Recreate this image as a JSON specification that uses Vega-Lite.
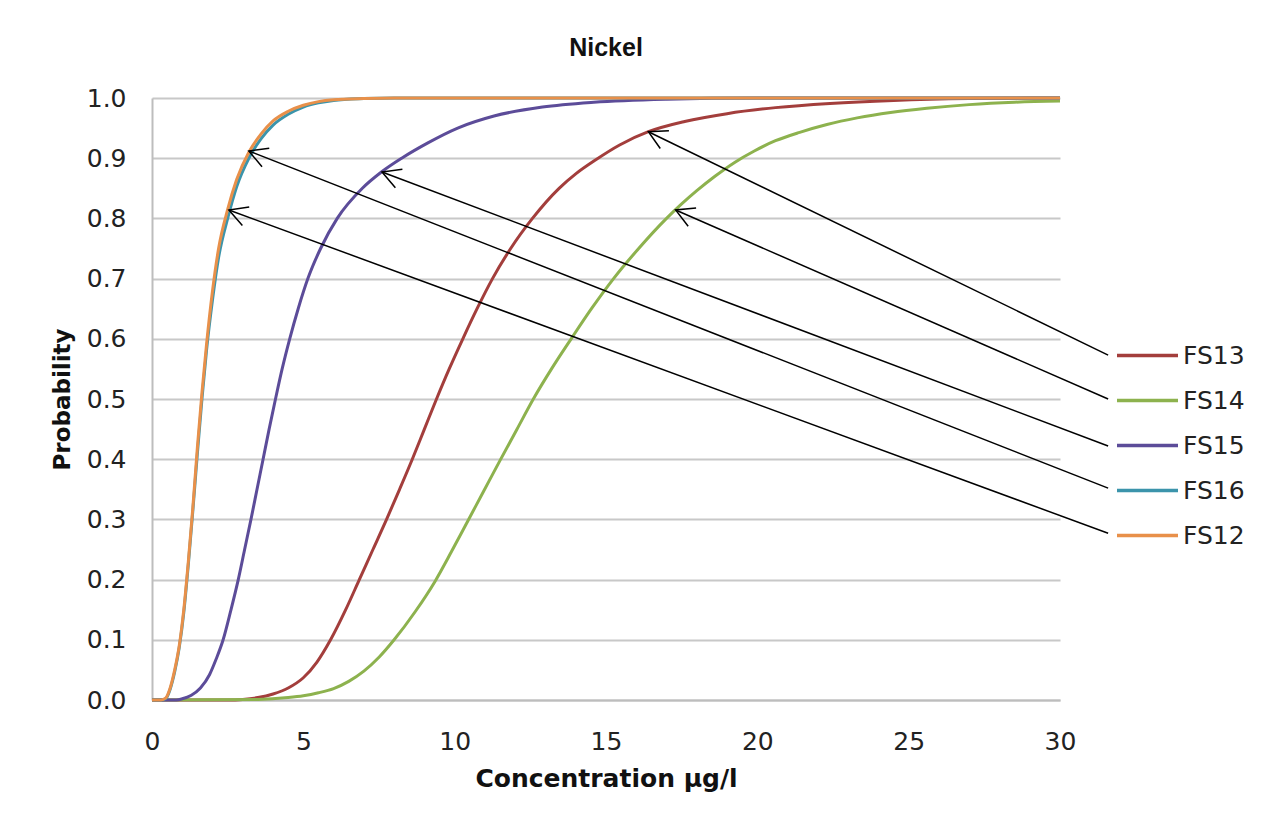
{
  "$schema": "https://vega.github.io/schema/vega-lite/v6.json",
  "autosize": {"type": "none"},
  "width": 908,
  "height": 602,
  "padding": {"left": 152, "top": 98, "right": 214, "bottom": 121},
  "background": "white",
  "config": {
    "font": "DejaVu Sans",
    "view": {"stroke": null},
    "axis": {"labelFont": "DejaVu Sans", "titleFont": "DejaVu Sans"}
  },
  "title": {
    "text": "Nickel",
    "font": "Liberation Sans",
    "fontSize": 25,
    "fontWeight": "bold",
    "color": "#111",
    "anchor": "middle",
    "offset": 25
  },
  "datasets": {
    "curves": [
      {"s": "FS13", "x": 0, "p": 0}, {"s": "FS13", "x": 2.5, "p": 0}, {"s": "FS13", "x": 3.0, "p": 0.001}, {"s": "FS13", "x": 3.5, "p": 0.004}, {"s": "FS13", "x": 4.0, "p": 0.01}, {"s": "FS13", "x": 4.5, "p": 0.02}, {"s": "FS13", "x": 5.0, "p": 0.037}, {"s": "FS13", "x": 5.45, "p": 0.063}, {"s": "FS13", "x": 5.9, "p": 0.1}, {"s": "FS13", "x": 6.4, "p": 0.15}, {"s": "FS13", "x": 6.85, "p": 0.2}, {"s": "FS13", "x": 7.3, "p": 0.25}, {"s": "FS13", "x": 7.75, "p": 0.3}, {"s": "FS13", "x": 8.18, "p": 0.35}, {"s": "FS13", "x": 8.6, "p": 0.4}, {"s": "FS13", "x": 9.0, "p": 0.45}, {"s": "FS13", "x": 9.4, "p": 0.5}, {"s": "FS13", "x": 9.82, "p": 0.55}, {"s": "FS13", "x": 10.27, "p": 0.6}, {"s": "FS13", "x": 10.74, "p": 0.65}, {"s": "FS13", "x": 11.25, "p": 0.7}, {"s": "FS13", "x": 11.85, "p": 0.75}, {"s": "FS13", "x": 12.57, "p": 0.8}, {"s": "FS13", "x": 13.45, "p": 0.85}, {"s": "FS13", "x": 14.0, "p": 0.874}, {"s": "FS13", "x": 14.65, "p": 0.897}, {"s": "FS13", "x": 15.45, "p": 0.922}, {"s": "FS13", "x": 16.4, "p": 0.944}, {"s": "FS13", "x": 17.6, "p": 0.961}, {"s": "FS13", "x": 19.0, "p": 0.974}, {"s": "FS13", "x": 20.6, "p": 0.984}, {"s": "FS13", "x": 22.4, "p": 0.991}, {"s": "FS13", "x": 24.5, "p": 0.996}, {"s": "FS13", "x": 27, "p": 0.999}, {"s": "FS13", "x": 30, "p": 1},

      {"s": "FS14", "x": 0, "p": 0}, {"s": "FS14", "x": 3.5, "p": 0.001}, {"s": "FS14", "x": 4.5, "p": 0.004}, {"s": "FS14", "x": 5.0, "p": 0.007}, {"s": "FS14", "x": 5.5, "p": 0.012}, {"s": "FS14", "x": 6.0, "p": 0.019}, {"s": "FS14", "x": 6.5, "p": 0.031}, {"s": "FS14", "x": 7.0, "p": 0.048}, {"s": "FS14", "x": 7.5, "p": 0.071}, {"s": "FS14", "x": 8.0, "p": 0.1}, {"s": "FS14", "x": 8.7, "p": 0.147}, {"s": "FS14", "x": 9.35, "p": 0.197}, {"s": "FS14", "x": 9.9, "p": 0.247}, {"s": "FS14", "x": 10.43, "p": 0.297}, {"s": "FS14", "x": 10.97, "p": 0.348}, {"s": "FS14", "x": 11.5, "p": 0.398}, {"s": "FS14", "x": 12.05, "p": 0.449}, {"s": "FS14", "x": 12.6, "p": 0.5}, {"s": "FS14", "x": 13.2, "p": 0.55}, {"s": "FS14", "x": 13.85, "p": 0.6}, {"s": "FS14", "x": 14.52, "p": 0.65}, {"s": "FS14", "x": 15.25, "p": 0.7}, {"s": "FS14", "x": 16.08, "p": 0.75}, {"s": "FS14", "x": 17.0, "p": 0.8}, {"s": "FS14", "x": 17.5, "p": 0.824}, {"s": "FS14", "x": 18.0, "p": 0.846}, {"s": "FS14", "x": 18.6, "p": 0.87}, {"s": "FS14", "x": 19.25, "p": 0.893}, {"s": "FS14", "x": 19.9, "p": 0.912}, {"s": "FS14", "x": 20.6, "p": 0.929}, {"s": "FS14", "x": 21.4, "p": 0.943}, {"s": "FS14", "x": 22.3, "p": 0.956}, {"s": "FS14", "x": 23.3, "p": 0.967}, {"s": "FS14", "x": 24.4, "p": 0.976}, {"s": "FS14", "x": 25.6, "p": 0.983}, {"s": "FS14", "x": 27.0, "p": 0.989}, {"s": "FS14", "x": 28.5, "p": 0.993}, {"s": "FS14", "x": 30, "p": 0.995},

      {"s": "FS15", "x": 0, "p": 0}, {"s": "FS15", "x": 0.8, "p": 0}, {"s": "FS15", "x": 1.0, "p": 0.002}, {"s": "FS15", "x": 1.3, "p": 0.008}, {"s": "FS15", "x": 1.6, "p": 0.02}, {"s": "FS15", "x": 1.9, "p": 0.042}, {"s": "FS15", "x": 2.12, "p": 0.068}, {"s": "FS15", "x": 2.35, "p": 0.1}, {"s": "FS15", "x": 2.6, "p": 0.148}, {"s": "FS15", "x": 2.85, "p": 0.2}, {"s": "FS15", "x": 3.06, "p": 0.25}, {"s": "FS15", "x": 3.27, "p": 0.3}, {"s": "FS15", "x": 3.47, "p": 0.35}, {"s": "FS15", "x": 3.67, "p": 0.4}, {"s": "FS15", "x": 3.87, "p": 0.45}, {"s": "FS15", "x": 4.08, "p": 0.5}, {"s": "FS15", "x": 4.3, "p": 0.55}, {"s": "FS15", "x": 4.55, "p": 0.6}, {"s": "FS15", "x": 4.83, "p": 0.65}, {"s": "FS15", "x": 5.15, "p": 0.7}, {"s": "FS15", "x": 5.57, "p": 0.75}, {"s": "FS15", "x": 6.12, "p": 0.8}, {"s": "FS15", "x": 6.95, "p": 0.85}, {"s": "FS15", "x": 7.58, "p": 0.877}, {"s": "FS15", "x": 8.25, "p": 0.9}, {"s": "FS15", "x": 9.1, "p": 0.925}, {"s": "FS15", "x": 10.1, "p": 0.95}, {"s": "FS15", "x": 11.3, "p": 0.97}, {"s": "FS15", "x": 12.9, "p": 0.985}, {"s": "FS15", "x": 14.6, "p": 0.993}, {"s": "FS15", "x": 17, "p": 0.998}, {"s": "FS15", "x": 20, "p": 1}, {"s": "FS15", "x": 30, "p": 1},

      {"s": "FS16", "x": 0, "p": 0}, {"s": "FS16", "x": 0.3, "p": 0}, {"s": "FS16", "x": 0.45, "p": 0.002}, {"s": "FS16", "x": 0.6, "p": 0.018}, {"s": "FS16", "x": 0.75, "p": 0.047}, {"s": "FS16", "x": 0.9, "p": 0.087}, {"s": "FS16", "x": 1.05, "p": 0.145}, {"s": "FS16", "x": 1.2, "p": 0.225}, {"s": "FS16", "x": 1.35, "p": 0.315}, {"s": "FS16", "x": 1.5, "p": 0.41}, {"s": "FS16", "x": 1.65, "p": 0.5}, {"s": "FS16", "x": 1.8, "p": 0.58}, {"s": "FS16", "x": 2.0, "p": 0.665}, {"s": "FS16", "x": 2.2, "p": 0.735}, {"s": "FS16", "x": 2.5, "p": 0.8}, {"s": "FS16", "x": 2.8, "p": 0.853}, {"s": "FS16", "x": 3.2, "p": 0.9}, {"s": "FS16", "x": 3.6, "p": 0.932}, {"s": "FS16", "x": 4.0, "p": 0.955}, {"s": "FS16", "x": 4.5, "p": 0.973}, {"s": "FS16", "x": 5.0, "p": 0.985}, {"s": "FS16", "x": 5.5, "p": 0.992}, {"s": "FS16", "x": 6.0, "p": 0.996}, {"s": "FS16", "x": 7.0, "p": 0.999}, {"s": "FS16", "x": 8, "p": 1}, {"s": "FS16", "x": 30, "p": 1},

      {"s": "FS12", "x": 0, "p": 0}, {"s": "FS12", "x": 0.3, "p": 0}, {"s": "FS12", "x": 0.45, "p": 0.003}, {"s": "FS12", "x": 0.6, "p": 0.02}, {"s": "FS12", "x": 0.75, "p": 0.05}, {"s": "FS12", "x": 0.9, "p": 0.09}, {"s": "FS12", "x": 1.05, "p": 0.15}, {"s": "FS12", "x": 1.2, "p": 0.23}, {"s": "FS12", "x": 1.35, "p": 0.32}, {"s": "FS12", "x": 1.5, "p": 0.42}, {"s": "FS12", "x": 1.65, "p": 0.51}, {"s": "FS12", "x": 1.8, "p": 0.59}, {"s": "FS12", "x": 2.0, "p": 0.68}, {"s": "FS12", "x": 2.2, "p": 0.75}, {"s": "FS12", "x": 2.5, "p": 0.815}, {"s": "FS12", "x": 2.8, "p": 0.865}, {"s": "FS12", "x": 3.2, "p": 0.91}, {"s": "FS12", "x": 3.6, "p": 0.94}, {"s": "FS12", "x": 4.0, "p": 0.962}, {"s": "FS12", "x": 4.5, "p": 0.978}, {"s": "FS12", "x": 5.0, "p": 0.988}, {"s": "FS12", "x": 5.5, "p": 0.994}, {"s": "FS12", "x": 6.0, "p": 0.997}, {"s": "FS12", "x": 7.0, "p": 0.999}, {"s": "FS12", "x": 8, "p": 1}, {"s": "FS12", "x": 30, "p": 1}
    ],
    "arrows": [
      {"s": "FS13", "x": 16.4, "y": 0.944, "x2": 31.59, "y2": 0.573, "angle": 25.9},
      {"s": "FS14", "x": 17.3, "y": 0.814, "x2": 31.59, "y2": 0.5, "angle": 23.6},
      {"s": "FS15", "x": 7.6, "y": 0.877, "x2": 31.59, "y2": 0.422, "angle": 20.7},
      {"s": "FS16", "x": 3.2, "y": 0.912, "x2": 31.59, "y2": 0.352, "angle": 21.4},
      {"s": "FS12", "x": 2.54, "y": 0.814, "x2": 31.59, "y2": 0.277, "angle": 20.2}
    ]
  },
  "layer": [
    {
      "data": {"name": "curves"},
      "mark": {"type": "line", "strokeWidth": 3, "interpolate": "monotone"},
      "encoding": {
        "x": {
          "field": "x", "type": "quantitative",
          "scale": {"domain": [0, 30], "nice": false},
          "axis": {
            "values": [0, 5, 10, 15, 20, 25, 30],
            "labelFlush": false,
            "title": "Concentration µg/l",
            "titleFontSize": 25, "titleFontWeight": "bold", "titleColor": "#111",
            "titlePadding": 12,
            "labelFontSize": 25, "labelColor": "#222", "labelPadding": 29,
            "ticks": false, "grid": false,
            "domainColor": "#bdbdbd", "domainWidth": 2
          }
        },
        "y": {
          "field": "p", "type": "quantitative",
          "scale": {"domain": [0, 1], "nice": false},
          "axis": {
            "values": [0, 0.1, 0.2, 0.3, 0.4, 0.5, 0.6, 0.7, 0.8, 0.9, 1.0],
            "format": ".1f",
            "labelFlush": false,
            "title": "Probability",
            "titleFontSize": 23, "titleFontWeight": "bold", "titleColor": "#111",
            "titlePadding": 12,
            "labelFontSize": 25, "labelColor": "#222", "labelPadding": 26,
            "ticks": false,
            "grid": true, "gridColor": "#c8c8c8", "gridWidth": 2,
            "domainColor": "#bdbdbd", "domainWidth": 2
          }
        },
        "color": {
          "field": "s", "type": "nominal",
          "scale": {
            "domain": ["FS13", "FS14", "FS15", "FS16", "FS12"],
            "range": ["#a33e3c", "#8db24e", "#5c4c99", "#3b94ab", "#e8904a"]
          },
          "legend": {
            "title": null,
            "orient": "none",
            "legendX": 963,
            "legendY": 236,
            "padding": 0,
            "symbolType": "stroke",
            "symbolSize": 3721,
            "symbolStrokeWidth": 3.5,
            "clipHeight": 43,
            "rowPadding": 2,
            "labelOffset": 3,
            "labelFontSize": 25,
            "labelColor": "#222",
            "labelFont": "DejaVu Sans"
          }
        }
      }
    },
    {
      "data": {"name": "arrows"},
      "mark": {"type": "rule", "color": "black", "strokeWidth": 1.5},
      "encoding": {
        "x": {"field": "x", "type": "quantitative"},
        "y": {"field": "y", "type": "quantitative"},
        "x2": {"field": "x2"},
        "y2": {"field": "y2"}
      }
    },
    {
      "data": {"name": "arrows"},
      "mark": {"type": "point", "shape": "M1,-0.55L0,0L1,0.55", "filled": false, "color": "black", "strokeWidth": 1.5, "size": 1300, "opacity": 1},
      "encoding": {
        "x": {"field": "x", "type": "quantitative"},
        "y": {"field": "y", "type": "quantitative"},
        "angle": {"field": "angle", "type": "quantitative", "scale": null}
      }
    }
  ]
}
